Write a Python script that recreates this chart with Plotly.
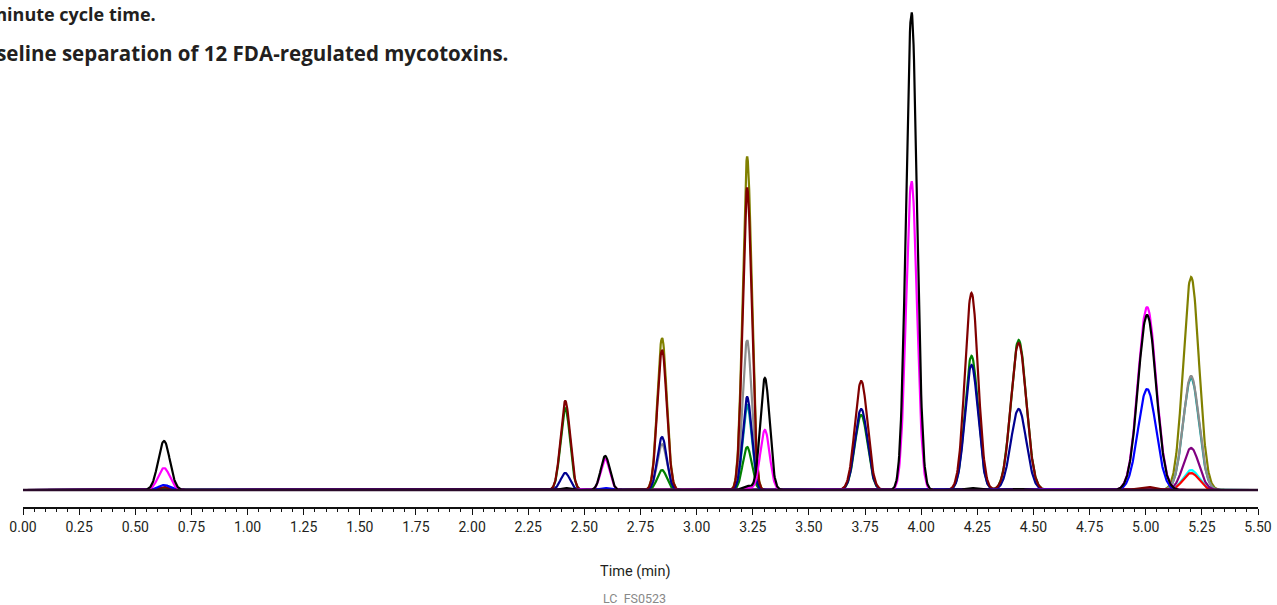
import numpy as np
import plotly.graph_objects as go

# Peak groups (retention time in min) and peak widths (sigma, min)
peak_times = [0.628, 2.415, 2.593, 2.846, 3.225, 3.304, 3.733, 3.957, 4.224, 4.434, 5.006, 5.202]
peak_sigmas = [0.026, 0.021, 0.020, 0.021, 0.020, 0.021, 0.028, 0.024, 0.029, 0.034, 0.040, 0.035]

# Heights (relative intensity) of each channel at each peak group
h_olive   = [0, 0, 0, 152, 333, 0, 0, 0, 0, 0, 0, 213]
h_teal    = [0, 0, 0, 0, 85, 0, 0, 0, 0, 0, 0, 112]
h_grey    = [0, 0, 0, 46, 150, 0, 0, 0, 0, 0, 0, 114]
h_cyan    = [0, 0, 0, 0, 0, 0, 0, 0, 0, 0, 0, 20]
h_red     = [0, 0, 0, 0, 0, 0, 0, 0, 0, 0, 0, 17]
h_purple  = [0, 0, 0, 0, 0, 0, 0, 0, 0, 0, 0, 42]
h_green   = [2, 82, 0, 20, 43, 0, 75, 0, 134, 150, 0, 0]
h_navy    = [0, 17, 0, 53, 93, 0, 81, 0, 125, 81, 0, 0]
h_darkred = [3, 89, 0, 140, 302, 0, 109, 0, 197, 147, 3, 0]
h_blue    = [5, 0, 2, 0, 0, 0, 0, 0, 0, 0, 101, 0]
h_magenta = [22, 0, 31, 0, 2, 60, 0, 309, 0, 0, 183, 0]
h_black   = [49, 2, 34, 0, 4, 112, 0, 478, 2, 1, 175, 0]

series = [
    ("olive", h_olive, "#808000"),
    ("teal", h_teal, "#00a0a0"),
    ("grey", h_grey, "#8c8c8c"),
    ("cyan", h_cyan, "#00ffff"),
    ("red", h_red, "#ff0000"),
    ("purple", h_purple, "#800080"),
    ("green", h_green, "#008000"),
    ("navy", h_navy, "#000090"),
    ("darkred", h_darkred, "#800000"),
    ("blue", h_blue, "#0000ff"),
    ("magenta", h_magenta, "#ff00ff"),
    ("black", h_black, "#000000"),
]

tick_vals = [i * 0.25 for i in range(23)]
tick_text = [f"{v:.2f}" for v in tick_vals]

t = np.linspace(0, 5.5, 2751)


def trace_signal(heights):
    y = np.zeros_like(t)
    for tc, s, h in zip(peak_times, peak_sigmas, heights):
        if h:
            y += h * np.exp(-0.5 * ((t - tc) / s) ** 2)
    return y


fig = go.Figure()
for name, hs, col in series:
    fig.add_trace(go.Scatter(x=t, y=trace_signal(hs), mode="lines", name=name,
                             line=dict(color=col, width=2.2), hoverinfo="skip"))

# baseline
fig.add_trace(go.Scatter(x=[0, 5.5], y=[0, 0], mode="lines",
                         line=dict(color="#2a0a2a", width=2.4), hoverinfo="skip"))

axis_font = "Roboto, sans-serif"
W, H = 1277, 605
L, R, T, B = 23, 16, 5, 98
PH = H - T - B  # plot height in px
AXIS_Y = H - B  # pixel of axis line


def py(page_y):
    return (AXIS_Y - page_y) / PH


def px(page_x):
    return (page_x - L) / (W - L - R)


fig.update_layout(
    width=W, height=H,
    margin=dict(l=L, r=R, t=T, b=B),
    paper_bgcolor="white", plot_bgcolor="white",
    showlegend=False,
    xaxis=dict(range=[0, 5.5], showgrid=False, zeroline=False,
               showline=True, linecolor="#111111", linewidth=1.5,
               tickmode="array", tickvals=tick_vals, ticktext=tick_text,
               ticks="outside", ticklen=6, tickwidth=1.3, tickcolor="#111111",
               minor=dict(dtick=0.05, tick0=0, ticks="outside", ticklen=3,
                          tickwidth=1, tickcolor="#111111", showgrid=False),
               ticklabeloverflow="allow",
               tickfont=dict(family=axis_font, size=14, color="#231f20")),
    yaxis=dict(range=[-17, PH - 17], visible=False, showgrid=False, zeroline=False),
    annotations=[
        dict(text="5.5 minute cycle time.", xref="paper", yref="paper",
             x=px(158), y=py(14), xanchor="right", yanchor="middle",
             showarrow=False, font=dict(family="Open Sans, sans-serif", size=18, color="#231f20", weight="bold")),
        dict(text="Baseline separation of 12 FDA-regulated mycotoxins.", xref="paper", yref="paper",
             x=px(511), y=py(53), xanchor="right", yanchor="middle",
             showarrow=False, font=dict(family="Open Sans, sans-serif", size=20.5, color="#231f20", weight="bold")),
        dict(text="Time (min)", xref="paper", yref="paper",
             x=px(636), y=py(572), xanchor="center", yanchor="middle",
             showarrow=False, font=dict(family=axis_font, size=14.5, color="#231f20")),
        dict(text="LC  FS0523", xref="paper", yref="paper",
             x=px(636), y=py(598), xanchor="center", yanchor="middle",
             showarrow=False, font=dict(family=axis_font, size=12.5, color="#888888")),
    ],
)

fig.write_html("out.html",
               config={"displayModeBar": False},
               post_script="document.body.style.margin='0';document.body.style.overflow='hidden';")
